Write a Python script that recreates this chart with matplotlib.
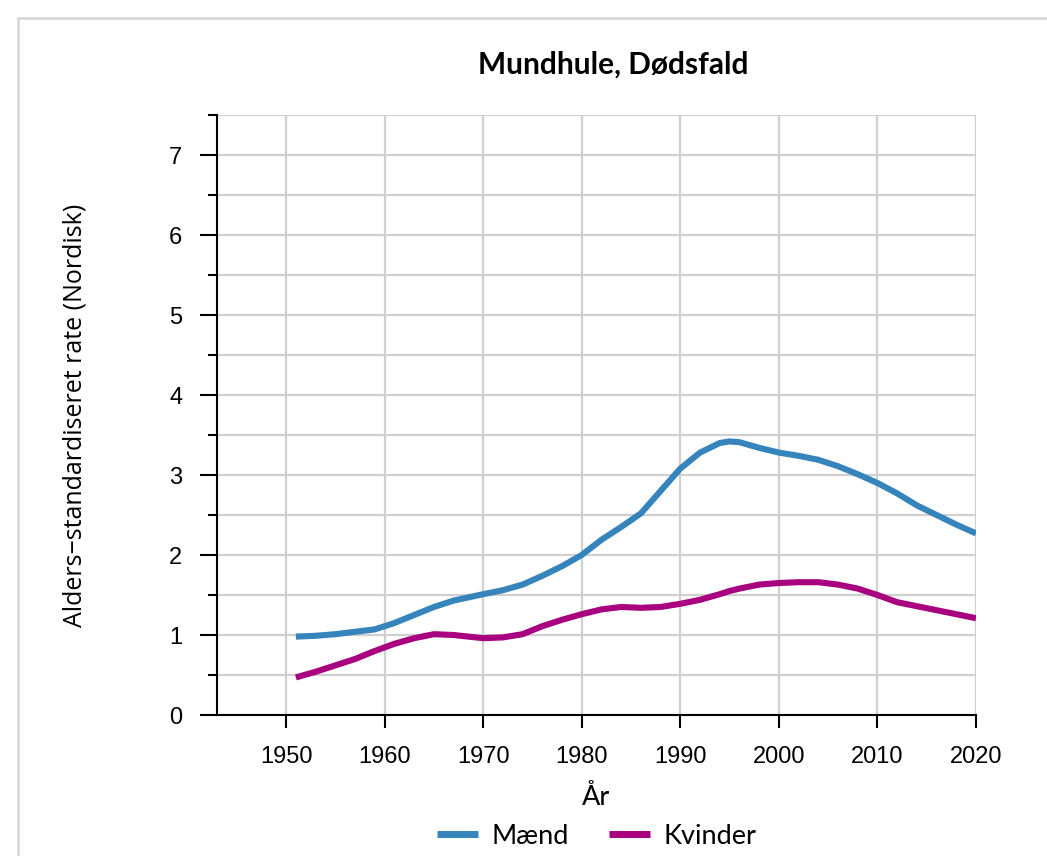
import numpy as np
import matplotlib
matplotlib.use("Agg")
import matplotlib.pyplot as plt
from matplotlib.patches import Rectangle
from matplotlib.ticker import MultipleLocator

# Values
years = [1951, 1953, 1955, 1957, 1959, 1961, 1963, 1965, 1967, 1970, 1972, 1974,
         1976, 1978, 1980, 1982, 1984, 1986, 1988, 1990, 1992, 1994, 1995, 1996,
         1998, 2000, 2002, 2004, 2006, 2008, 2010, 2012, 2014, 2016, 2018, 2020]
maend = [0.98, 0.99, 1.01, 1.04, 1.07, 1.15, 1.25, 1.35, 1.43, 1.51, 1.56, 1.63,
         1.74, 1.86, 2.00, 2.19, 2.35, 2.52, 2.80, 3.08, 3.28, 3.40, 3.42, 3.41,
         3.34, 3.28, 3.24, 3.19, 3.11, 3.01, 2.90, 2.77, 2.62, 2.50, 2.38, 2.27]
kvinder = [0.47, 0.54, 0.62, 0.70, 0.80, 0.89, 0.96, 1.01, 1.00, 0.96, 0.97, 1.01,
           1.11, 1.19, 1.26, 1.32, 1.35, 1.34, 1.35, 1.39, 1.44, 1.51, 1.55, 1.58,
           1.63, 1.65, 1.66, 1.66, 1.63, 1.58, 1.50, 1.41, 1.36, 1.31, 1.26, 1.21]
x_ticks = [1950, 1960, 1970, 1980, 1990, 2000, 2010, 2020]

W, H = 1047, 856
fig = plt.figure(figsize=(W / 100, H / 100), dpi=100)

# light frame around the chart
fig.patches.append(Rectangle((18 / W, -0.1), 1.2, 1 - 18 / H + 0.1, transform=fig.transFigure,
                             fill=False, edgecolor="#d6d6d6", linewidth=1.8))

ax = fig.add_axes([217 / W, 1 - 715 / H, (976 - 217) / W, (715 - 115) / H])

ax.plot(years, maend, color="#3584bb", lw=4.4, solid_capstyle="butt", label="Mænd", zorder=3)
ax.plot(years, kvinder, color="#a8007f", lw=4.4, solid_capstyle="butt", label="Kvinder", zorder=3)

ax.set_xlim(1943, 2020)
ax.set_ylim(0, 7.5)
ax.set_xticks(x_ticks)
ax.yaxis.set_major_locator(MultipleLocator(1))
ax.yaxis.set_minor_locator(MultipleLocator(0.5))

grid_kw = dict(color="#d0d0d0", linewidth=1.6)
ax.grid(axis="x", which="major", **grid_kw)
ax.grid(axis="y", which="both", **grid_kw)
ax.set_axisbelow(True)

for s in ["top", "right"]:
    ax.spines[s].set_visible(False)
for s in ["left", "bottom"]:
    ax.spines[s].set_linewidth(1.5)
    ax.spines[s].set_color("black")

ax.tick_params(axis="y", which="major", length=12, width=1.5, pad=13)
ax.tick_params(axis="y", which="minor", length=6.5, width=1.5)
ax.tick_params(axis="x", which="major", length=9.5, width=1.5, pad=13)
for lab in ax.get_xticklabels() + ax.get_yticklabels():
    lab.set_fontfamily("Liberation Sans")
    lab.set_fontsize(17)

ax.set_ylabel("Alders\u2212standardiseret rate (Nordisk)", fontfamily="Open Sans", fontsize=18)
ax.yaxis.set_label_coords((88 - 217) / 759, 0.5)
ax.set_xlabel("År", fontfamily="Lato", fontsize=19.5, labelpad=12)

fig.text(613 / W, 1 - 65 / H, "Mundhule, Dødsfald", ha="center", va="center",
         fontfamily="Lato", fontweight="bold", fontsize=21.5)

leg = ax.legend(loc="center", bbox_to_anchor=(0.5, (715 - 836) / 600), ncol=2, frameon=False,
                prop={"family": "Lato", "size": 19.5}, handlelength=1.5,
                columnspacing=1.5, handletextpad=0.5)
for line in leg.get_lines():
    line.set_linewidth(5)

fig.savefig("out.png", dpi=100)
